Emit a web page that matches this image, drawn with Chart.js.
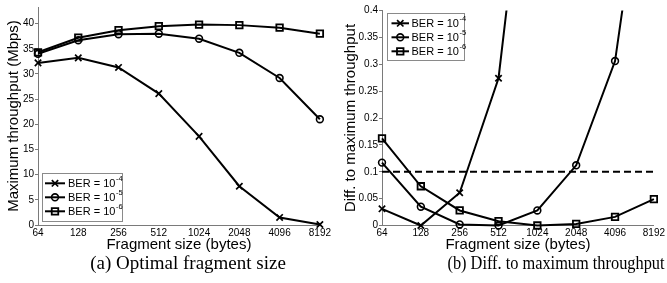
<!DOCTYPE html>
<html>
<head>
<meta charset="utf-8">
<script src="https://cdn.jsdelivr.net/npm/chart.js@4.4.1/dist/chart.umd.min.js"></script>
<style>
  html, body { margin: 0; padding: 0; background: #fff; }
  #wrap { position: relative; width: 667px; height: 283px; overflow: hidden; background: #fff; }
  canvas { position: absolute; top: 0; }
  #cA { left: 0; }
  #cB { left: 333px; }
  .cap { position: absolute; width: 320px; text-align: center; font-family: "Liberation Serif", "Times New Roman", serif;
         font-size: 19px; line-height: 19px; color: #000; white-space: nowrap; top: 253px; }
  #capA { left: 28px; }
  #capB { left: 396px; transform: scaleX(0.86); transform-origin: 50% 50%; }
</style>
</head>
<body>
<div id="wrap">
  <canvas id="cA" width="333" height="260"></canvas>
  <canvas id="cB" width="334" height="260"></canvas>
  <div class="cap" id="capA">(a) Optimal fragment size</div>
  <div class="cap" id="capB">(b) Diff. to maximum throughput</div>
</div>
<script>
// ---- data ----
const fragmentSizes = ['64', '128', '256', '512', '1024', '2048', '4096', '8192'];
const thrBER4 = [32.2, 33.2, 31.3, 26.1, 17.6, 7.7, 1.5, 0.1];
const thrBER5 = [34.0, 36.7, 37.9, 38.0, 37.0, 34.2, 29.2, 21.0];
const thrBER6 = [34.3, 37.2, 38.7, 39.5, 39.8, 39.7, 39.2, 38.0];
const diffBER4 = [0.031, 0.0, 0.061, 0.274, 0.89, 3.3, 21, 330];
const diffBER5 = [0.117, 0.035, 0.002, 0.0, 0.028, 0.112, 0.306, 0.81];
const diffBER6 = [0.162, 0.073, 0.028, 0.008, 0.0, 0.003, 0.016, 0.049];
const thresholdLine = [0.1, 0.1, 0.1, 0.1, 0.1, 0.1, 0.1, 0.1];
const leftYTickLabels = ['0', '5', '10', '15', '20', '25', '30', '35', '40'];
const rightYTickLabels = ['0', '0.05', '0.1', '0.15', '0.2', '0.25', '0.3', '0.35', '0.4'];
const seriesNames = ['BER = 10', 'BER = 10', 'BER = 10'];
const seriesExponents = ['-4', '-5', '-6'];

// ---- style ----
const SANS = '"Liberation Sans", Arial, Helvetica, sans-serif';
Chart.defaults.font.family = SANS;
Chart.defaults.color = '#000';
const AXIS = '#7a7a7a';
const markers = [
  { pointStyle: 'crossRot', pointRadius: 4.5, pointBorderWidth: 1.7 },
  { pointStyle: 'circle', pointRadius: 3.4, pointBorderWidth: 1.6 },
  { pointStyle: 'rect', pointRadius: 4.6, pointBorderWidth: 1.8 }
];

function series(data, i) {
  return Object.assign({
    data: data,
    borderColor: '#000',
    borderWidth: 2,
    pointBackgroundColor: 'rgba(255,255,255,0)',
    pointBorderColor: '#000',
    tension: 0,
    clip: { left: 8, right: 8, top: 0, bottom: 8 }
  }, markers[i]);
}

const berLegend = {
  id: 'berLegend',
  afterDatasetsDraw(chart, args, o) {
    const ctx = chart.ctx;
    ctx.save();
    ctx.fillStyle = '#fff';
    ctx.fillRect(o.x, o.y, o.w, o.h);
    ctx.strokeStyle = '#8a8a8a';
    ctx.lineWidth = 1;
    ctx.strokeRect(o.x + 0.5, o.y + 0.5, o.w, o.h);
    for (let i = 0; i < 3; i++) {
      const cy = o.y + o.first + i * o.step;
      ctx.strokeStyle = '#000';
      ctx.lineWidth = 2;
      ctx.beginPath();
      ctx.moveTo(o.x + o.lx0, cy);
      ctx.lineTo(o.x + o.lx1, cy);
      ctx.stroke();
      ctx.fillStyle = 'rgba(255,255,255,0)';
      ctx.lineWidth = markers[i].pointBorderWidth;
      Chart.helpers.drawPoint(ctx, {
        pointStyle: markers[i].pointStyle,
        radius: markers[i].pointRadius,
        borderWidth: markers[i].pointBorderWidth,
        rotation: 0
      }, o.x + (o.lx0 + o.lx1) / 2, cy);
      ctx.fillStyle = '#000';
      ctx.textBaseline = 'middle';
      ctx.textAlign = 'left';
      ctx.font = '11px ' + SANS;
      const tx = o.x + o.tx;
      ctx.fillText(seriesNames[i], tx, cy + 0.5);
      const w = ctx.measureText(seriesNames[i]).width;
      ctx.font = '7.5px ' + SANS;
      ctx.fillText(seriesExponents[i], tx + w + 0.5, cy - 4);
    }
    ctx.restore();
  }
};

function xScale(h) {
  return {
    type: 'category',
    offset: false,
    grid: { display: false, drawTicks: false, tickLength: 0 },
    border: { color: AXIS, width: 1 },
    ticks: { font: { size: 10 }, color: '#000', padding: 2, maxRotation: 0, autoSkip: false },
    title: { display: true, text: 'Fragment size (bytes)', font: { size: 15 }, color: '#000', padding: { top: 0, bottom: 6 } },
    afterFit(s) { s.height = h; }
  };
}

new Chart(document.getElementById('cA'), {
  type: 'line',
  data: {
    labels: fragmentSizes,
    datasets: [series(thrBER4, 0), series(thrBER5, 1), series(thrBER6, 2)]
  },
  plugins: [berLegend],
  options: {
    responsive: false,
    animation: false,
    devicePixelRatio: 1,
    layout: { padding: { left: 0, top: 4, right: 13, bottom: 0 } },
    plugins: {
      legend: { display: false },
      tooltip: { enabled: false },
      berLegend: { x: 42, y: 173, w: 80, h: 48, first: 10.3, step: 14, lx0: 3, lx1: 23, tx: 26 }
    },
    scales: {
      x: xScale(35),
      y: {
        min: 0, max: 43.3,
        ticks: {
          stepSize: 5, includeBounds: false, font: { size: 10 }, color: '#000', padding: 1,
          callback: (v) => leftYTickLabels[Math.round(v / 5)]
        },
        grid: { drawOnChartArea: false, tickLength: 3, color: AXIS },
        border: { color: AXIS, width: 1 },
        title: { display: true, text: 'Maximum throughput (Mbps)', font: { size: 15 }, color: '#000', padding: { top: 4.8, bottom: 0 } },
        afterFit(s) { s.width = 38; }
      }
    }
  }
});

const dashDs = {
  data: thresholdLine,
  borderColor: '#000',
  borderWidth: 2,
  borderDash: [7, 4],
  pointRadius: 0,
  tension: 0
};

new Chart(document.getElementById('cB'), {
  type: 'line',
  data: {
    labels: fragmentSizes,
    datasets: [series(diffBER4, 0), series(diffBER5, 1), series(diffBER6, 2), dashDs]
  },
  plugins: [berLegend],
  options: {
    responsive: false,
    animation: false,
    devicePixelRatio: 1,
    layout: { padding: { left: 0, top: 10.5, right: 10, bottom: 0 } },
    plugins: {
      legend: { display: false },
      tooltip: { enabled: false },
      berLegend: { x: 54, y: 13, w: 77, h: 47, first: 10.3, step: 14, lx0: 4.5, lx1: 22, tx: 24.5 }
    },
    scales: {
      x: xScale(34.5),
      y: {
        min: 0, max: 0.4,
        ticks: {
          stepSize: 0.05, includeBounds: false, font: { size: 10 }, color: '#000', padding: 1,
          callback: (v) => rightYTickLabels[Math.round(v / 0.05)]
        },
        grid: { drawOnChartArea: false, tickLength: 3, color: AXIS },
        border: { color: AXIS, width: 1 },
        title: { display: true, text: 'Diff. to maximum throughput', font: { size: 15 }, color: '#000', padding: { top: 8.5, bottom: 0 } },
        afterFit(s) { s.width = 49; }
      }
    }
  }
});
</script>
</body>
</html>
